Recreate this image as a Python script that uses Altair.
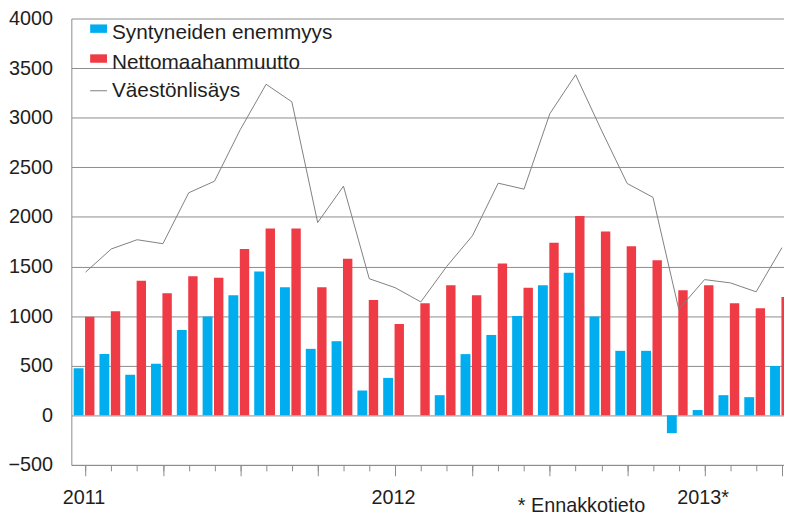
import altair as alt
import pandas as pd

# ---- data ----
months = [f"{y}-{m:02d}" for y in (2011, 2012, 2013) for m in range(1, 13)][:28]

bar_series = ["Syntyneiden enemmyys", "Nettomaahanmuutto"]
line_series = "Väestönlisäys"

births_surplus = [475, 617, 410, 520, 860, 995, 1210, 1450, 1290, 670, 747, 250,
                  377, 0, 203, 617, 810, 1000, 1310, 1437, 995, 650, 650, -180,
                  53, 203, 183, 497]
net_migration = [993, 1050, 1357, 1230, 1403, 1387, 1677, 1883, 1883, 1290, 1577, 1163,
                 920, 1130, 1310, 1210, 1530, 1287, 1740, 2010, 1853, 1703, 1563, 1260,
                 1310, 1130, 1080, 1193]
pop_increase = [1443, 1677, 1770, 1730, 2243, 2360, 2880, 3337, 3160, 1943, 2310, 1377,
                1287, 1143, 1500, 1810, 2340, 2280, 3040, 3433, 2875, 2337, 2197, 1068,
                1368, 1335, 1245, 1690]

year_positions = [0, 12, 24]
year_labels = ["2011", "2012", "2013*"]
footnote = "* Ennakkotieto"

colors = ["#00AEEF", "#EF3B45"]
line_color = "#808080"
grid_color = "#8c8c8c"
text_color = "#1e1e1e"
FONT = "Liberation Sans"

# ---- tables ----
rows = []
for i, m in enumerate(months):
    rows.append({"i": i, "month": m, "series": bar_series[0], "value": births_surplus[i]})
    rows.append({"i": i, "month": m, "series": bar_series[1], "value": net_migration[i]})
bars_df = pd.DataFrame(rows)
line_df = pd.DataFrame({"i": list(range(len(months))), "month": months,
                        "series": [line_series] * len(months), "value": pop_increase})

label_expr = " : ".join(
    [f"datum.value == {p} ? '{t}'" for p, t in zip(year_positions, year_labels)]
) + " : ''"

xscale = alt.Scale(domain=[-0.55, 27.08], nice=False, zero=False)
yscale = alt.Scale(domain=[-500, 4000], nice=False, zero=False)

# monthly short ticks + labels + footnote
xaxis_months = alt.Axis(
    orient="bottom",
    values=list(range(len(months))),
    labelExpr=label_expr,
    labelOverlap=False, labelBound=False, labelFlush=False,
    grid=False,
    tickSize=6, tickColor=grid_color, tickWidth=1,
    domainColor=grid_color, domainWidth=1,
    labelFont=FONT, labelFontSize=20, labelColor=text_color,
    labelPadding=17, labelOffset=-2,
    title=footnote, titleFont=FONT, titleFontSize=20, titleFontWeight="normal",
    titleColor=text_color, titleX=515, titleY=47, titleAlign="center",
    titleBaseline="alphabetic",
)
# quarterly long ticks
xaxis_quarters = alt.Axis(
    orient="bottom",
    values=list(range(0, len(months), 3)),
    labels=False, domain=False, grid=False,
    tickSize=11, tickColor=grid_color, tickWidth=1,
    title=None,
)
yaxis = alt.Axis(
    values=list(range(-500, 4001, 500)),
    format="d",
    grid=True, gridColor=grid_color, gridWidth=1,
    ticks=False, labelPadding=19,
    domainColor=grid_color, domainWidth=1,
    labelFont=FONT, labelFontSize=20, labelColor=text_color,
    title=None,
)

bars = alt.Chart(bars_df).transform_calculate(
    x0=f"datum.i + (datum.series == '{bar_series[0]}' ? -0.46 : -0.019)",
    x1=f"datum.i + (datum.series == '{bar_series[0]}' ? -0.077 : 0.345)",
).mark_rect(clip=True).encode(
    x=alt.X("x0:Q", scale=xscale, axis=xaxis_months),
    x2="x1:Q",
    y=alt.Y("value:Q", scale=yscale, axis=yaxis),
    y2=alt.datum(0),
    fill=alt.Fill("series:N", scale=alt.Scale(domain=bar_series, range=colors),
                  legend=alt.Legend(
                      title=None, orient="none", legendX=17, legendY=4,
                      symbolType="M-1,-1H1V0H-1Z", symbolSize=289,
                      symbolStrokeWidth=0, symbolOpacity=1,
                      labelFont=FONT, labelFontSize=21, labelColor=text_color,
                      labelOffset=3, rowPadding=8.2, padding=0, labelLimit=400,
                  )),
)

line = alt.Chart(line_df).mark_line(strokeWidth=1, clip=True).encode(
    x=alt.X("i:Q", scale=xscale, axis=xaxis_quarters),
    y=alt.Y("value:Q", scale=yscale),
    stroke=alt.Stroke("series:N", scale=alt.Scale(domain=[line_series], range=[line_color]),
                      legend=alt.Legend(
                          title=None, orient="none", legendX=17, legendY=62.5,
                          symbolType="stroke", symbolSize=289, symbolStrokeWidth=1,
                          labelFont=FONT, labelFontSize=21, labelColor=text_color,
                          labelOffset=3, padding=0, labelLimit=400,
                      )),
)

chart = alt.layer(bars, line).resolve_axis(x="independent").properties(
    width=720, height=451,
    autosize=alt.AutoSizeParams(type="none"),
    padding={"left": 64, "top": 8, "right": 0, "bottom": 48},
    background="white",
).configure_view(stroke=None)

chart.save("out.html", embed_options={"renderer": "svg", "actions": False})
